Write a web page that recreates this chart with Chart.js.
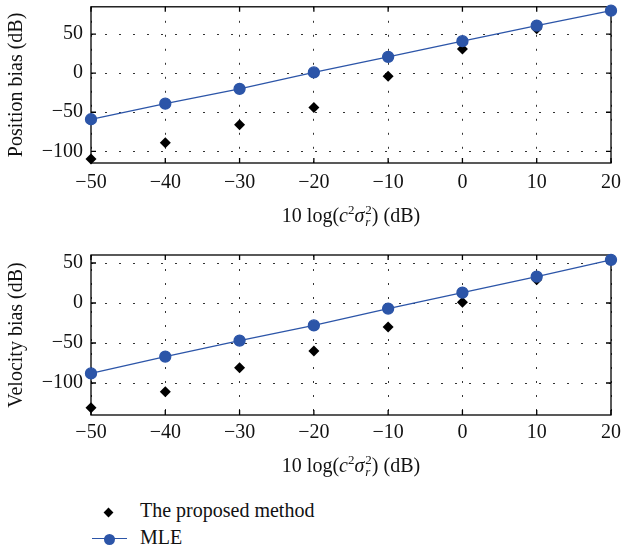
<!DOCTYPE html>
<html>
<head>
<meta charset="utf-8">
<script src="https://cdn.jsdelivr.net/npm/chart.js@4.4.1/dist/chart.umd.min.js"></script>
<style>
  body { margin: 0; width: 623px; height: 552px; background: #fff; position: relative; overflow: hidden;
         font-family: "Liberation Serif", serif; color: #111; }
  .box { position: absolute; left: 0; width: 623px; }
  #topBox { top: 0; height: 230px; }
  #botBox { top: 230px; height: 250px; }
  .xtitle { position: absolute; left: 351px; transform: translateX(-50%); font-size: 20px; line-height: 24px; white-space: nowrap; }
  .sp { font-size: 13px; vertical-align: 8px; }
  .ss { display: inline-flex; flex-direction: column; font-size: 13px; line-height: 12px; vertical-align: 8px; margin-left: 1px; }
  .leg { position: absolute; left: 140px; font-size: 20px; line-height: 24px; white-space: nowrap; }
  .diamond { position: absolute; left: 105px; top: 509px; width: 7px; height: 7px; background: #000; transform: rotate(45deg); }
  .mleLine { position: absolute; left: 92px; top: 538px; width: 35px; height: 1.3px; background: #2c55a8; }
  .mleDot { position: absolute; left: 104px; top: 534px; width: 11px; height: 11px; border-radius: 50%; background: #2c55a8; }
</style>
</head>
<body>
<div class="box" id="topBox"><canvas id="posChart"></canvas></div>
<div class="box" id="botBox"><canvas id="velChart"></canvas></div>

<div class="xtitle" style="top:198px">10 log(<i>c</i><span class="sp">2</span><i>σ</i><span class="ss"><span>2</span><span><i>r</i></span></span>) (dB)</div>
<div class="xtitle" style="top:448px">10 log(<i>c</i><span class="sp">2</span><i>σ</i><span class="ss"><span>2</span><span><i>r</i></span></span>) (dB)</div>

<div class="diamond"></div>
<div class="leg" style="top:498px">The proposed method</div>
<div class="mleLine"></div>
<div class="mleDot"></div>
<div class="leg" style="top:525px">MLE</div>

<script>
const snr = [-50, -40, -30, -20, -10, 0, 10, 20];
const posProposed = [-110, -89, -66, -44, -4, 31, 57, 80];
const posMLE = [-59, -39, -20, 1, 21, 41, 61, 80];
const velProposed = [-131, -111, -81, -60, -30, 1, 29, 53];
const velMLE = [-88, -67, -47, -28, -7, 13, 33, 54];
const xTicks = [-50, -40, -30, -20, -10, 0, 10, 20];
const yTicks = [-100, -50, 0, 50];

const blue = '#2c55a8';
const font = { family: '"Liberation Serif", serif', size: 20 };

function fmt(v) {
  return v < 0 ? '\u2212' + Math.abs(v) : String(v);
}

function pts(ys) {
  return snr.map((x, i) => ({ x: x, y: ys[i] }));
}

// box around the plot plus the small inward ticks on all four sides
const frame = {
  id: 'frame',
  beforeDatasetsDraw(chart) {
    const { ctx, chartArea: a, scales: { x, y } } = chart;
    ctx.save();
    ctx.strokeStyle = '#000';
    ctx.lineWidth = 1.3;
    ctx.strokeRect(a.left, a.top, a.right - a.left, a.bottom - a.top);
    ctx.beginPath();
    x.ticks.forEach(t => {
      const px = x.getPixelForValue(t.value);
      ctx.moveTo(px, a.bottom); ctx.lineTo(px, a.bottom - 5);
      ctx.moveTo(px, a.top); ctx.lineTo(px, a.top + 5);
    });
    y.ticks.forEach(t => {
      const py = y.getPixelForValue(t.value);
      ctx.moveTo(a.left, py); ctx.lineTo(a.left + 5, py);
      ctx.moveTo(a.right, py); ctx.lineTo(a.right - 5, py);
    });
    ctx.stroke();
    ctx.restore();
  }
};

function makeChart(id, proposed, mle, yMin, yMax, yLabel, topPad, xHeight, xPad) {
  return new Chart(document.getElementById(id), {
    type: 'scatter',
    data: {
      datasets: [
        {
          label: 'The proposed method',
          data: pts(proposed),
          order: 1,
          pointStyle: 'rectRot',
          pointRadius: 5.5,
          backgroundColor: '#000',
          borderColor: '#000',
          borderWidth: 0,
          showLine: false,
          clip: false
        },
        {
          label: 'MLE',
          data: pts(mle),
          order: 0,
          pointStyle: 'circle',
          pointRadius: 5.5,
          backgroundColor: blue,
          borderColor: blue,
          borderWidth: 1.3,
          showLine: true,
          clip: false
        }
      ]
    },
    options: {
      responsive: true,
      maintainAspectRatio: false,
      animation: false,
      layout: { padding: { top: topPad, right: 12, left: 0, bottom: 0 } },
      plugins: { legend: { display: false }, tooltip: { enabled: false } },
      scales: {
        x: {
          type: 'linear',
          min: -50, max: 20,
          afterBuildTicks: s => { s.ticks = xTicks.map(v => ({ value: v })); },
          afterFit: s => { s.height = xHeight; s.paddingLeft = 0; s.paddingRight = 0; },
          ticks: { color: '#111', font: font, padding: xPad, maxRotation: 0, callback: fmt },
          grid: { color: '#333', lineWidth: 1, drawTicks: false },
          border: { display: false, dash: [2, 12] }
        },
        y: {
          min: yMin, max: yMax,
          afterBuildTicks: s => { s.ticks = yTicks.map(v => ({ value: v })); },
          afterFit: s => { s.width = 91; s.paddingTop = 0; s.paddingBottom = 0; },
          ticks: { color: '#111', font: font, padding: 8, callback: fmt },
          grid: { color: '#333', lineWidth: 1, drawTicks: false },
          border: { display: false, dash: [2, 12] },
          title: { display: true, text: yLabel, color: '#111', font: font, padding: { top: 5, bottom: 0 } }
        }
      }
    },
    plugins: [frame]
  });
}

makeChart('posChart', posProposed, posMLE, -115, 85, 'Position bias (dB)', 2, 67, 8);
makeChart('velChart', velProposed, velMLE, -140, 60, 'Velocity bias (dB)', 25, 65, 6);
</script>
</body>
</html>
